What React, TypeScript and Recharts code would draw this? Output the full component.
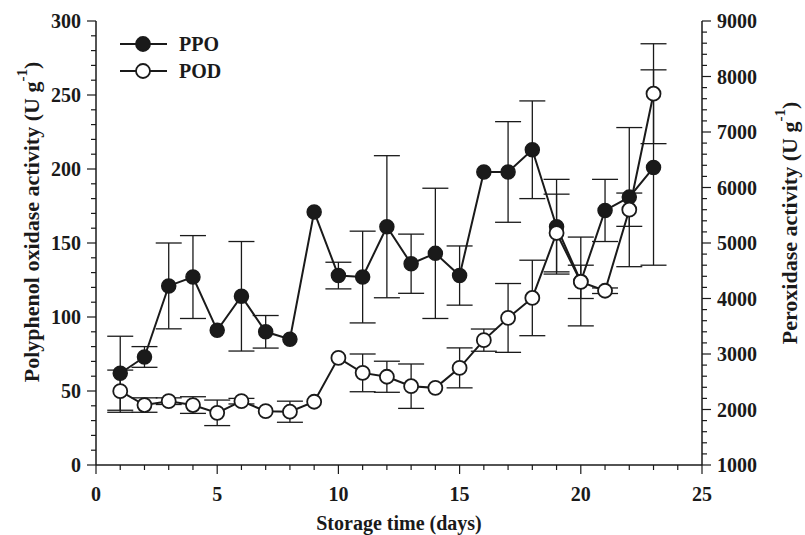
import { LineChart, Line, XAxis, YAxis, ErrorBar, Label } from 'recharts'

// storage day
const days = [1, 2, 3, 4, 5, 6, 7, 8, 9, 10, 11, 12, 13, 14, 15, 16, 17, 18, 19, 20, 21, 22, 23]
// polyphenol oxidase (left axis)
const ppo = [62, 73, 121, 127, 91, 114, 90, 85, 171, 128, 127, 161, 136, 143, 128, 198, 198, 213, 161, 124, 172, 181, 201]
const ppoSd = [25, 7, 29, 28, 0, 37, 11, 0, 0, 9, 31, 48, 20, 44, 20, 0, 34, 33, 32, 30, 21, 47, 66]
// peroxidase (right axis)
const pod = [2330, 2080, 2150, 2080, 1940, 2150, 1970, 1960, 2140, 2930, 2660, 2590, 2420, 2390, 2750, 3250, 3650, 4010, 5180, 4300, 4140, 5600, 7690]
const podSd = [380, 130, 60, 150, 230, 50, 0, 190, 0, 0, 340, 280, 400, 0, 360, 200, 620, 680, 700, 300, 50, 300, 900]

const xMajor = [0, 5, 10, 15, 20, 25]
const leftMajor = [0, 50, 100, 150, 200, 250, 300]
const rightMajor = [1000, 2000, 3000, 4000, 5000, 6000, 7000, 8000, 9000]

const xTicks = Array.from({ length: 26 }, (_, i) => i)
const leftTicks = Array.from({ length: 31 }, (_, i) => i * 10)
const rightTicks = Array.from({ length: 41 }, (_, i) => 1000 + i * 200)

const data = days.map((d, i) => ({ day: d, ppo: ppo[i], ppoSd: ppoSd[i], pod: pod[i], podSd: podSd[i] }))

const FONT = '"Liberation Serif", "Times New Roman", serif'
const INK = '#1a1a1a'

const XTick = ({ x, y, payload }: any) => {
  const major = xMajor.includes(payload.value)
  return (
    <g>
      <line x1={x} x2={x} y1={y} y2={y + (major ? 9 : 5)} stroke={INK} strokeWidth={1.2} />
      {major && (
        <text x={x} y={y + 36} textAnchor="middle" fontFamily={FONT} fontWeight="bold" fontSize={20} fill={INK}>
          {payload.value}
        </text>
      )}
    </g>
  )
}

const LeftTick = ({ x, y, payload }: any) => {
  const major = leftMajor.includes(payload.value)
  return (
    <g>
      <line x1={x} x2={x - (major ? 9 : 5)} y1={y} y2={y} stroke={INK} strokeWidth={1.2} />
      {major && (
        <text x={x - 15} y={y + 7} textAnchor="end" fontFamily={FONT} fontWeight="bold" fontSize={20} fill={INK}>
          {payload.value}
        </text>
      )}
    </g>
  )
}

const RightTick = ({ x, y, payload }: any) => {
  const major = rightMajor.includes(payload.value)
  return (
    <g>
      <line x1={x} x2={x + (major ? 9 : 5)} y1={y} y2={y} stroke={INK} strokeWidth={1.2} />
      {major && (
        <text x={x + 15} y={y + 7} textAnchor="start" fontFamily={FONT} fontWeight="bold" fontSize={20} fill={INK}>
          {payload.value}
        </text>
      )}
    </g>
  )
}

const AxisTitle = ({ cx, cy, rotate, text }: { cx: number; cy: number; rotate: boolean; text: string }) => (
  <text
    x={cx}
    y={cy}
    transform={rotate ? `rotate(-90 ${cx} ${cy})` : undefined}
    textAnchor="middle"
    dominantBaseline="central"
    fontFamily={FONT}
    fontWeight="bold"
    fontSize={rotate ? 22 : 20}
    fill={INK}
  >
    {text}
    {rotate && (
      <>
        <tspan> (U g</tspan>
        <tspan fontSize={15} dy={-9}>-1</tspan>
        <tspan dy={9}>)</tspan>
      </>
    )}
  </text>
)

const LegendBox = () => (
  <svg width={120} height={60} style={{ position: 'absolute', left: 120, top: 32, overflow: 'visible' }}>
    {[
      { label: 'PPO', fill: INK, y: 12 },
      { label: 'POD', fill: '#fff', y: 39 },
    ].map((it) => (
      <g key={it.label}>
        <line x1={0} x2={47} y1={it.y} y2={it.y} stroke={INK} strokeWidth={2} />
        <circle cx={23} cy={it.y} r={7} fill={it.fill} stroke={INK} strokeWidth={1.8} />
        <text x={59} y={it.y + 7} fontFamily={FONT} fontWeight="bold" fontSize={20} fill={INK}>
          {it.label}
        </text>
      </g>
    ))}
  </svg>
)

export default function App() {
  return (
    <div style={{ position: 'absolute', left: 0, top: 0, width: 805, height: 535, background: '#fff' }}>
      <LineChart width={805} height={535} data={data} margin={{ top: 21, right: 0, bottom: 0, left: 0 }}>
        <XAxis
          dataKey="day"
          type="number"
          domain={[0, 25]}
          ticks={xTicks}
          interval={0}
          height={70}
          tickSize={0}
          tickMargin={0}
          tickLine={false}
          tick={<XTick />}
          axisLine={{ stroke: INK, strokeWidth: 1.5 }}
        >
          <Label content={() => <AxisTitle cx={399} cy={523} rotate={false} text="Storage time (days)" />} />
        </XAxis>
        <XAxis
          xAxisId="top"
          orientation="top"
          dataKey="day"
          type="number"
          domain={[0, 25]}
          height={0}
          tick={false}
          tickLine={false}
          axisLine={{ stroke: INK, strokeWidth: 1.5 }}
        />
        <YAxis
          yAxisId="left"
          domain={[0, 300]}
          ticks={leftTicks}
          interval={0}
          width={96}
          tickSize={0}
          tickMargin={0}
          tickLine={false}
          tick={<LeftTick />}
          axisLine={{ stroke: INK, strokeWidth: 1.5 }}
        >
          <Label content={() => <AxisTitle cx={31} cy={222} rotate text="Polyphenol oxidase activity" />} />
        </YAxis>
        <YAxis
          yAxisId="right"
          orientation="right"
          domain={[1000, 9000]}
          ticks={rightTicks}
          interval={0}
          width={103}
          tickSize={0}
          tickMargin={0}
          tickLine={false}
          tick={<RightTick />}
          axisLine={{ stroke: INK, strokeWidth: 1.5 }}
        >
          <Label content={() => <AxisTitle cx={789} cy={223} rotate text="Peroxidase activity" />} />
        </YAxis>
        <Line
          yAxisId="left"
          dataKey="ppo"
          stroke={INK}
          strokeWidth={2}
          dot={{ r: 7, fill: INK, stroke: INK, strokeWidth: 1.5 }}
          isAnimationActive={false}
        >
          <ErrorBar dataKey="ppoSd" direction="y" width={13} stroke={INK} strokeWidth={1.3} />
        </Line>
        <Line
          yAxisId="right"
          dataKey="pod"
          stroke={INK}
          strokeWidth={2}
          dot={{ r: 7, fill: '#fff', stroke: INK, strokeWidth: 1.8 }}
          isAnimationActive={false}
        >
          <ErrorBar dataKey="podSd" direction="y" width={13} stroke={INK} strokeWidth={1.3} />
        </Line>
      </LineChart>
      <LegendBox />
    </div>
  )
}
